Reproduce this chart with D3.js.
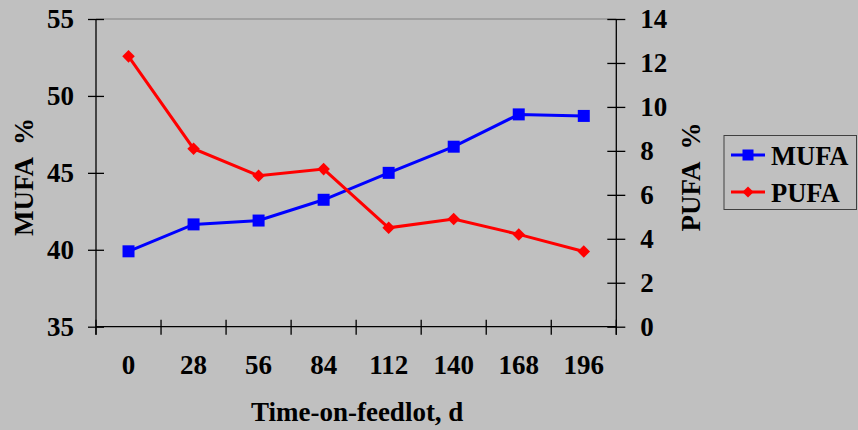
<!DOCTYPE html>
<html><head><meta charset="utf-8">
<script src="https://cdn.jsdelivr.net/npm/d3@7"></script>
<style>html,body{margin:0;padding:0;background:#c0c0c0;}svg{display:block;}</style>
</head><body>
<script>
const categories = ["0","28","56","84","112","140","168","196"];
const mufa = [39.9, 41.65, 41.9, 43.25, 45.0, 46.7, 48.8, 48.7];
const pufa = [12.3, 8.1, 6.87, 7.17, 4.5, 4.9, 4.2, 3.42];
const leftTicks = [35, 40, 45, 50, 55];
const rightTicks = [0, 2, 4, 6, 8, 10, 12, 14];

const W = 858, H = 430;
const L = 96, R = 616.3, T = 19, B = 326.7;
const font = "'Liberation Serif','Times New Roman',serif";

const svg = d3.select("body").append("svg").attr("width", W).attr("height", H)
  .style("background", "#c0c0c0");

const x = d3.scaleBand().domain(categories).range([L, R]).padding(0);
const yL = d3.scaleLinear().domain([35, 55]).range([B, T]);
const yR = d3.scaleLinear().domain([0, 14]).range([B, T]);

// top border
svg.append("line").attr("x1", L).attr("x2", R).attr("y1", T).attr("y2", T)
  .attr("stroke", "#808080").attr("stroke-width", 1);

// left axis
const gl = svg.append("g").attr("transform", `translate(${L},0)`)
  .call(d3.axisLeft(yL).tickValues(leftTicks).tickSize(8).tickPadding(14));
gl.selectAll(".tick line").attr("x2", -8).attr("x1", 8);
// right axis
const gr = svg.append("g").attr("transform", `translate(${R},0)`)
  .call(d3.axisRight(yR).tickValues(rightTicks).tickSize(9).tickPadding(15));
gr.selectAll(".tick line").attr("x1", -9).attr("x2", 9);
// bottom axis
const gb = svg.append("g").attr("transform", `translate(0,${B})`)
  .call(d3.axisBottom(x).tickSize(0).tickPadding(28));
gb.selectAll(".tick text").attr("dy", "0.71em");
// boundary ticks on the x-axis
const bounds = categories.map(c => x(c)).concat([R]);
svg.append("g").selectAll("line").data(bounds).join("line")
  .attr("x1", d => d).attr("x2", d => d).attr("y1", B - 7).attr("y2", B + 8)
  .attr("stroke", "#000").attr("stroke-width", 1.3);

[gl, gr, gb].forEach(g => {
  g.select(".domain").attr("stroke", "#000").attr("stroke-width", 1.3);
  g.selectAll(".tick line").attr("stroke", "#000").attr("stroke-width", 1.3);
  g.selectAll(".tick text").attr("fill", "#000").style("font-family", font)
    .style("font-weight", "bold").style("font-size", "27px");
});
gb.select(".domain").attr("d", `M${L},0H${R}`);
gl.select(".domain").attr("d", `M0,${T}V${B + 8}`);
gr.select(".domain").attr("d", `M0,${T}V${B + 8}`);

// lines
const cx = c => x(c) + x.bandwidth() / 2;
const lineL = d3.line().x((d, i) => cx(categories[i])).y(d => yL(d));
const lineR = d3.line().x((d, i) => cx(categories[i])).y(d => yR(d));
svg.append("path").datum(mufa).attr("d", lineL).attr("fill", "none")
  .attr("stroke", "#0000ff").attr("stroke-width", 3);
svg.append("path").datum(pufa).attr("d", lineR).attr("fill", "none")
  .attr("stroke", "#ff0000").attr("stroke-width", 3);

const sq = d3.symbol().type(d3.symbolSquare).size(144);
const dm = d3.symbol().type(d3.symbolDiamond2).size(100);
svg.append("g").selectAll("path").data(mufa).join("path")
  .attr("d", sq).attr("fill", "#0000ff")
  .attr("transform", (d, i) => `translate(${cx(categories[i])},${yL(d)})`);
svg.append("g").selectAll("path").data(pufa).join("path")
  .attr("d", dm).attr("fill", "#ff0000")
  .attr("transform", (d, i) => `translate(${cx(categories[i])},${yR(d)})`);

// axis titles
const txt = (s, px) => svg.append("text").text(s).attr("fill", "#000")
  .style("white-space", "pre")
  .style("font-family", font).style("font-weight", "bold").style("font-size", px + "px");
txt("Time-on-feedlot, d", 27).attr("x", (L + R) / 2 + 1).attr("y", 421).attr("text-anchor", "middle");
txt("MUFA  %", 27).attr("text-anchor", "middle")
  .attr("transform", `translate(33,177) rotate(-90)`);
txt("PUFA  %", 27).attr("text-anchor", "middle")
  .attr("transform", `translate(700,177) rotate(-90)`);

// legend
const lg = svg.append("g");
lg.append("rect").attr("x", 724).attr("y", 135.5).attr("width", 132.5).attr("height", 74)
  .attr("fill", "none").attr("stroke", "#404040").attr("stroke-width", 1);
const items = [{n: "MUFA", c: "#0000ff", s: d3.symbol().type(d3.symbolSquare).size(121), y: 155},
               {n: "PUFA", c: "#ff0000", s: d3.symbol().type(d3.symbolDiamond2).size(80), y: 192}];
items.forEach(it => {
  lg.append("line").attr("x1", 731).attr("x2", 765).attr("y1", it.y).attr("y2", it.y)
    .attr("stroke", it.c).attr("stroke-width", 3);
  lg.append("path").attr("d", it.s).attr("fill", it.c).attr("transform", `translate(748,${it.y})`);
  lg.append("text").text(it.n).attr("x", 771).attr("y", it.y + 10).attr("fill", "#000")
    .style("font-family", font).style("font-weight", "bold").style("font-size", "26.5px");
});
</script>
</body></html>
